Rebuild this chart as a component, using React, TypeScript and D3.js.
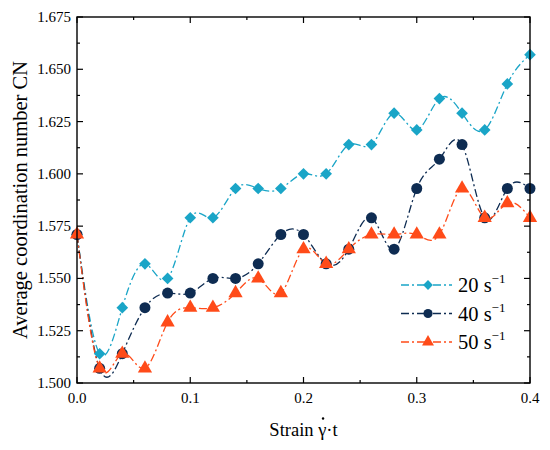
import React, { useEffect, useRef, useState } from "react";
import * as d3 from "d3";

const strain = [0, 0.02, 0.04, 0.06, 0.08, 0.1, 0.12, 0.14, 0.16, 0.18, 0.2, 0.22, 0.24, 0.26, 0.28, 0.3, 0.32, 0.34, 0.36, 0.38, 0.4];
const cn20 = [1.571, 1.514, 1.536, 1.557, 1.55, 1.579, 1.579, 1.593, 1.593, 1.593, 1.6, 1.6, 1.614, 1.614, 1.629, 1.621, 1.636, 1.629, 1.621, 1.643, 1.657];
const cn40 = [1.571, 1.507, 1.514, 1.536, 1.543, 1.543, 1.55, 1.55, 1.557, 1.571, 1.571, 1.557, 1.564, 1.579, 1.564, 1.593, 1.607, 1.614, 1.579, 1.593, 1.593];
const cn50 = [1.571, 1.507, 1.514, 1.507, 1.529, 1.536, 1.536, 1.543, 1.55, 1.543, 1.564, 1.557, 1.564, 1.571, 1.571, 1.571, 1.571, 1.593, 1.579, 1.586, 1.579];
const seriesNames = ["20", "40", "50"];
const xTicks = [0, 0.1, 0.2, 0.3, 0.4];
const yTicks = [1.5, 1.525, 1.55, 1.575, 1.6, 1.625, 1.65, 1.675];

const W = 550, H = 450;
const L = 77, R = 530, T = 17, B = 383;
const FONT = '"Liberation Serif", "Times New Roman", Times, serif';

const colors = ["#1aa5c7", "#0e2c52", "#ff4b19"];
const shapes = [d3.symbolDiamond2, d3.symbolCircle, d3.symbolTriangle];

export default function App() {
  const x = d3.scaleLinear().domain([0, 0.4]).range([L, R]);
  const y = d3.scaleLinear().domain([1.5, 1.675]).range([B, T]);
  const data = [cn20, cn40, cn50];
  const line = d3
    .line<number>()
    .x((_, i) => x(strain[i]))
    .y((v) => y(v))
    .curve(d3.curveNatural);

  const markerPath = (k: number, size: number) => {
    if (k === 0) return d3.symbol().type(d3.symbolSquare).size(size * 0.62)() as string;
    return d3.symbol().type(shapes[k]).size(size)() as string;
  };
  const markerSizes = [110, 95, 88];

  const xMinor = d3.range(0, 0.4001, 0.05);
  const yMinor = d3.range(0, 15).map((i) => 1.5 + i * 0.0125);
  const txt = { fontFamily: FONT };

  const titleRef = useRef<SVGTextElement>(null);
  const [dot, setDot] = useState<{ x: number; y: number } | null>(null);
  useEffect(() => {
    const el = titleRef.current;
    if (!el) return;
    try {
      const ext = el.getExtentOfChar(7);
      setDot({ x: ext.x + ext.width / 2 + 0.8, y: 436 - 17.5 });
    } catch (e) {
      setDot({ x: 326, y: 418 });
    }
  }, []);

  return (
    <div style={{ position: "absolute", left: 0, top: 0 }}>
      <svg width={W} height={H} style={{ display: "block", background: "#fff", fontFamily: FONT }}>
        <defs>
          <clipPath id="plot">
            <rect x={L} y={T} width={R - L} height={B - T} />
          </clipPath>
        </defs>
        <g clipPath="url(#plot)">
          {data.map((d, k) => (
            <path
              key={k}
              d={line(d) as string}
              fill="none"
              stroke={colors[k]}
              strokeWidth={1.3}
              strokeDasharray="8,3,2,3"
            />
          ))}
        </g>
        {data.map((d, k) =>
          d.map((v, i) => (
            <path
              key={`${k}-${i}`}
              d={markerPath(k, markerSizes[k])}
              transform={`translate(${x(strain[i])},${y(v)})${k === 0 ? " rotate(45)" : ""}`}
              fill={colors[k]}
            />
          ))
        )}
        <rect x={L} y={T} width={R - L} height={B - T} fill="none" stroke="#000" strokeWidth={1.4} />
        {xMinor.map((t, i) => {
          const major = i % 2 === 0;
          const len = major ? 6 : 3;
          return (
            <g key={`xt${i}`} stroke="#000" strokeWidth={1.2}>
              <line x1={x(t)} x2={x(t)} y1={B} y2={B - len} />
              <line x1={x(t)} x2={x(t)} y1={T} y2={T + len} />
            </g>
          );
        })}
        {yMinor.map((t, i) => {
          const major = i % 2 === 0;
          const len = major ? 6 : 3;
          return (
            <g key={`yt${i}`} stroke="#000" strokeWidth={1.2}>
              <line x1={L} x2={L + len} y1={y(t)} y2={y(t)} />
              <line x1={R} x2={R - len} y1={y(t)} y2={y(t)} />
            </g>
          );
        })}
        {xTicks.map((t) => (
          <text key={`xl${t}`} x={x(t)} y={B + 20} textAnchor="middle" style={txt} fontSize={15} fill="#000">
            {t.toFixed(1)}
          </text>
        ))}
        {yTicks.map((t) => (
          <text key={`yl${t}`} x={L - 6} y={y(t) + 5} textAnchor="end" style={txt} fontSize={15} fill="#000">
            {t.toFixed(3)}
          </text>
        ))}
        <text
          transform={`translate(27,${(T + B) / 2}) rotate(-90)`}
          textAnchor="middle"
          style={txt}
          fontSize={20.5}
          fill="#000"
        >
          Average coordination number CN
        </text>
        <text ref={titleRef} x={(L + R) / 2} y={436} textAnchor="middle" style={txt} fontSize={18.5} fill="#000">
          Strain γ·t
        </text>
        {dot && <circle cx={dot.x} cy={dot.y} r={1.2} fill="#000" />}
        {seriesNames.map((n, k) => {
          const ly = 285 + k * 28.5;
          return (
            <g key={`lg${k}`}>
              <line x1={401} x2={452} y1={ly} y2={ly} stroke={colors[k]} strokeWidth={1.3} strokeDasharray="8,3,2,3" />
              <path
                d={markerPath(k, markerSizes[k] * 0.7)}
                transform={`translate(428,${ly})${k === 0 ? " rotate(45)" : ""}`}
                fill={colors[k]}
              />
              <text x={458} y={ly + 7} style={txt} fontSize={20.5} fill="#000">
                {n} s
                <tspan dy={-9} fontSize={13}>−1</tspan>
              </text>
            </g>
          );
        })}
      </svg>
    </div>
  );
}
